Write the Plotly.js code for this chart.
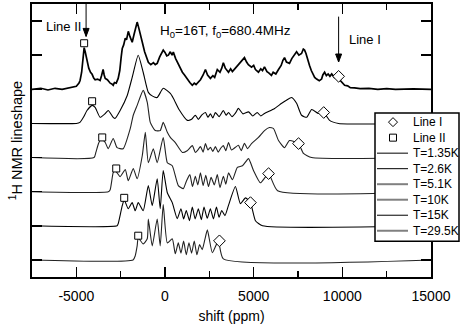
<!DOCTYPE html>
<html>
<head>
<meta charset="utf-8">
<script src="https://cdn.plot.ly/plotly-3.0.1.min.js"></script>
<style>
  body { margin: 0; background: #fff; }
  #grafico { width: 462px; height: 327px; }
</style>
</head>
<body>
<div id="grafico"></div>
<script>
// Etiquetas de temperatura y desplazamiento vertical de cada espectro
const temps = ['T=1.35K', 'T=2.6K', 'T=5.1K', 'T=10K', 'T=15K', 'T=29.5K'];
const offsets = [5, 4, 3, 2, 1, 0];

// Espectros: desplazamiento (ppm) e intensidad sobre la linea base
const s1x = [-7500, -7000, -6600, -6200, -5800, -5400, -5000, -4850, -4790, -4700, -4650, -4600, -4560, -4500, -4450, -4380, -4300, -4200, -4110, -4020, -3940, -3800, -3660, -3580, -3490, -3430, -3370, -3250, -3150, -3090, -3000, -2920, -2850, -2750, -2640, -2550, -2470, -2410, -2330, -2240, -2170, -2070, -1980, -1850, -1750, -1650, -1570, -1480, -1380, -1280, -1150, -1050, -940, -800, -650, -550, -440, -300, -180, -100, 0, 100, 190, 300, 400, 470, 600, 750, 850, 980, 1100, 1250, 1400, 1540, 1650, 1750, 1880, 2000, 2150, 2280, 2400, 2560, 2700, 2800, 2950, 3100, 3200, 3290, 3400, 3500, 3580, 3700, 3800, 3970, 4100, 4250, 4380, 4480, 4600, 4700, 4880, 5000, 5100, 5270, 5400, 5500, 5610, 5750, 5850, 6000, 6100, 6250, 6400, 6550, 6650, 6740, 6850, 7020, 7150, 7300, 7420, 7550, 7700, 7800, 7870, 7950, 8050, 8150, 8250, 8350, 8440, 8550, 8700, 8830, 8900, 9000, 9100, 9200, 9300, 9400, 9550, 9650, 9790, 9900, 10000, 10130, 10300, 10450, 10690, 11000, 11500, 12000, 12500, 13000, 14000, 15000];
const s1y = [0, 0.03, -0.02, 0.03, 0, 0.05, 0.09, 0.18, 0.26, 0.5, 0.72, 1.0, 1.22, 1.1, 0.95, 0.75, 0.62, 0.5, 0.44, 0.33, 0.28, 0.3, 0.26, 0.4, 0.58, 0.42, 0.32, 0.28, 0.22, 0.18, 0.16, 0.12, 0.2, 0.18, 0.32, 0.55, 0.95, 1.2, 1.3, 1.5, 1.45, 1.7, 1.55, 1.38, 1.6, 1.85, 1.97, 1.8, 1.55, 1.38, 1.1, 0.95, 0.79, 0.72, 0.78, 0.72, 0.76, 0.95, 1.05, 1.15, 1.08, 0.98, 1.0, 1.1, 1.0, 1.09, 0.9, 0.75, 0.62, 0.5, 0.42, 0.3, 0.2, 0.12, 0.18, 0.14, 0.2, 0.28, 0.42, 0.58, 0.42, 0.32, 0.4, 0.35, 0.58, 0.5, 0.62, 0.78, 0.62, 0.55, 0.5, 0.6, 0.52, 0.62, 0.7, 0.8, 0.85, 0.93, 0.8, 0.72, 0.65, 0.7, 0.58, 0.5, 0.6, 0.55, 0.66, 0.52, 0.48, 0.41, 0.5, 0.45, 0.58, 0.7, 0.85, 0.93, 0.8, 0.76, 0.9, 1.0, 1.1, 1.0, 1.05, 1.18, 1.15, 1.05, 0.85, 0.7, 0.55, 0.42, 0.35, 0.3, 0.25, 0.3, 0.42, 0.5, 0.4, 0.45, 0.38, 0.45, 0.35, 0.4, 0.38, 0.25, 0.18, 0.12, 0.1, 0.05, 0.04, 0.02, 0.03, 0, 0.02, 0, 0.01, 0];

const s2x = [-7500, -5000, -4800, -4600, -4400, -4110, -3940, -3660, -3370, -3200, -2920, -2810, -2530, -2130, -1850, -1510, -1230, -940, -700, -440, -100, 300, 470, 800, 1260, 1500, 1710, 1880, 2080, 2280, 2420, 2560, 2700, 2840, 3050, 3290, 3450, 3580, 3780, 3970, 4140, 4400, 4710, 4950, 5200, 5400, 5610, 6180, 6580, 6850, 7140, 7420, 7700, 7990, 8270, 8660, 8950, 9280, 9790, 15000];
const s2y = [0, 0, 0.03, 0.18, 0.38, 0.53, 0.47, 0.18, 0.29, 0.38, 0.18, 0.15, 0.38, 0.82, 1.35, 2.0, 1.5, 0.91, 0.8, 0.76, 1.03, 0.88, 0.74, 0.4, 0.09, 0.12, 0.24, 0.12, 0.25, 0.32, 0.18, 0.28, 0.16, 0.32, 0.2, 0.38, 0.24, 0.32, 0.2, 0.3, 0.44, 0.28, 0.34, 0.22, 0.32, 0.22, 0.29, 0.44, 0.59, 0.68, 0.76, 0.59, 0.24, 0.18, 0.41, 0.29, 0.32, 0.09, 0, 0];

const s3x = [-7500, -4000, -3900, -3750, -3600, -3370, -3200, -2920, -2700, -2360, -1960, -1790, -1570, -1230, -1000, -830, -550, -270, -100, 130, 300, 580, 980, 1250, 1540, 1710, 1850, 2000, 2150, 2280, 2420, 2560, 2700, 2840, 3000, 3150, 3290, 3430, 3580, 3750, 3970, 4140, 4300, 4480, 4650, 4880, 5270, 5610, 5890, 6120, 6400, 6740, 7020, 7530, 7810, 8270, 15000];
const s3y = [0, 0, 0.15, 0.41, 0.56, 0.44, 0.26, 0.56, 0.29, 0.26, 0.85, 1.24, 1.53, 1.97, 1.62, 1.03, 0.79, 0.79, 1.03, 0.74, 0.59, 0.44, 0.15, 0.2, 0.35, 0.15, 0.22, 0.32, 0.16, 0.41, 0.22, 0.3, 0.18, 0.32, 0.16, 0.28, 0.35, 0.2, 0.44, 0.22, 0.3, 0.36, 0.2, 0.42, 0.26, 0.41, 0.59, 0.79, 0.88, 0.85, 0.5, 0.29, 0.5, 0.41, 0.12, 0, 0];

const s4x = [-7500, -3200, -3090, -2920, -2810, -2530, -2240, -2070, -1790, -1570, -1280, -1110, -940, -660, -440, -100, 130, 410, 750, 1030, 1200, 1400, 1550, 1710, 1850, 2000, 2150, 2300, 2450, 2600, 2780, 2950, 3100, 3290, 3430, 3580, 3800, 4080, 4370, 4710, 4990, 5380, 5840, 6350, 15000];
const s4y = [0, 0, 0.06, 0.56, 0.62, 0.44, 0.65, 0.32, 0.68, 0.38, 1.06, 1.74, 0.85, 1.26, 0.85, 1.59, 0.85, 0.76, 0.18, 0.09, 0.3, 0.5, 0.15, 0.45, 0.2, 0.55, 0.18, 0.48, 0.15, 0.42, 0.2, 0.5, 0.12, 0.45, 0.22, 0.55, 0.35, 0.71, 0.76, 0.97, 0.62, 0.26, 0.53, 0.03, 0];

const s5x = [-7500, -2700, -2640, -2410, -2300, -2070, -1850, -1680, -1510, -1230, -940, -720, -440, -270, -100, 130, 410, 690, 900, 1050, 1200, 1380, 1540, 1700, 1880, 2050, 2200, 2380, 2560, 2730, 2900, 3050, 3200, 3380, 3580, 3970, 4250, 4540, 4820, 5100, 5500, 15000];
const s5y = [0, 0, 0.06, 0.59, 0.76, 0.5, 0.68, 0.44, 0.68, 0.44, 1.18, 0.59, 1.38, 0.5, 1.62, 0.97, 0.68, 0.21, 0.5, 0.2, 0.45, 0.15, 0.55, 0.2, 0.5, 0.18, 0.55, 0.22, 0.5, 0.2, 0.55, 0.25, 0.45, 0.3, 0.6, 1.15, 0.65, 0.82, 0.68, 0.15, 0, 0];

const s6x = [-7500, -1800, -1680, -1570, -1510, -1230, -1000, -940, -720, -440, -270, -100, 130, 410, 580, 750, 900, 1050, 1200, 1350, 1500, 1650, 1800, 1950, 2100, 2250, 2390, 2670, 3010, 3290, 15000];
const s6y = [0, 0, 0.12, 0.41, 0.65, 0.47, 0.62, 1.2, 0.41, 1.2, 0.41, 1.62, 0.5, 0.62, 0.18, 0.5, 0.2, 0.55, 0.15, 0.5, 0.2, 0.55, 0.15, 0.45, 0.3, 0.6, 0.88, 0.21, 0.56, 0.03, 0];

// Posiciones de Line I (rombos) y Line II (cuadrados) en cada espectro
const lineIx = [9790, 8950, 7530, 5840, 4820, 3070];
const lineIy = [0.38, 0.32, 0.41, 0.53, 0.68, 0.56];
const lineIIx = [-4560, -4110, -3540, -2750, -2300, -1510];
const lineIIy = [1.35, 0.65, 0.59, 0.68, 0.82, 0.71];

const specX = [s1x, s2x, s3x, s4x, s5x, s6x];
const specY = [s1y, s2y, s3y, s4y, s5y, s6y];
const colores = ['#000', '#000', '#222', '#222', '#000', '#222'];
const coloresLeyenda = ['#000', '#000', '#808080', '#808080', '#000', '#808080'];

const fuente = 'Liberation Sans, Arial, Helvetica, sans-serif';

const traces = specX.map((xs, i) => ({
    x: xs,
    y: specY[i].map(v => v + offsets[i]),
    mode: 'lines',
    type: 'scatter',
    line: i === 0
        ? { color: colores[i], width: 1.7 }
        : { color: colores[i], width: 1.1, shape: 'spline', smoothing: 0.5 },
    name: temps[i],
    showlegend: false,
    hoverinfo: 'skip'
}));

traces.push({
    x: lineIx,
    y: lineIy.map((v, i) => v + offsets[i]),
    mode: 'markers',
    type: 'scatter',
    marker: { symbol: 'diamond', size: 9, color: '#fff', line: { color: '#000', width: 1 } },
    name: 'Line I',
    showlegend: false
});
traces.push({
    x: lineIIx,
    y: lineIIy.map((v, i) => v + offsets[i]),
    mode: 'markers',
    type: 'scatter',
    marker: { symbol: 'square', size: 7, color: '#fff', line: { color: '#000', width: 1 } },
    name: 'Line II',
    showlegend: false
});

// Leyenda dibujada a mano (caja, muestras y textos) para respetar el espaciado original
const L = 32, R = 431, T = 4, B = 276.7;
const px2x = p => (p - L) / (R - L);
const px2y = p => (B - p) / (B - T);

const shapes = [];
const annotations = [];

shapes.push({
    type: 'rect', xref: 'paper', yref: 'paper', layer: 'above',
    x0: px2x(375), x1: px2x(459), y0: px2y(241), y1: px2y(113),
    fillcolor: '#fff', line: { color: '#000', width: 1.5 }
});

const etiquetas = ['Line I', 'Line II'].concat(temps);
const filas = [122, 137.5, 153, 168.5, 184, 199.5, 215, 230.5];
etiquetas.forEach((txt, k) => {
    annotations.push({
        xref: 'paper', yref: 'paper', x: px2x(411), y: px2y(filas[k]),
        xanchor: 'left', yanchor: 'middle', showarrow: false, text: txt,
        font: { family: fuente, size: 12, color: '#000' }
    });
    if (k >= 2) {
        const gris = coloresLeyenda[k - 2] !== '#000';
        shapes.push({
            type: 'line', xref: 'paper', yref: 'paper', layer: 'above',
            x0: px2x(377), x1: px2x(408), y0: px2y(filas[k]), y1: px2y(filas[k]),
            line: { color: coloresLeyenda[k - 2], width: gris ? 2 : 1 }
        });
    }
});
// simbolos de la leyenda
shapes.push({
    type: 'path', xref: 'paper', yref: 'paper', layer: 'above',
    xsizemode: 'pixel', ysizemode: 'pixel', xanchor: px2x(393), yanchor: px2y(filas[0]),
    path: 'M0,4.5L4.5,0L0,-4.5L-4.5,0Z', fillcolor: '#fff', line: { color: '#000', width: 1 }
});
shapes.push({
    type: 'rect', xref: 'paper', yref: 'paper', layer: 'above',
    xsizemode: 'pixel', ysizemode: 'pixel', xanchor: px2x(393), yanchor: px2y(filas[1]),
    x0: -3.5, x1: 3.5, y0: -3.5, y1: 3.5, fillcolor: '#fff', line: { color: '#000', width: 1 }
});

// Flechas de Line I y Line II (linea + punta)
function flecha(x, yTop, yTip) {
    shapes.push({
        type: 'line', xref: 'x', yref: 'y', x0: x, x1: x, y0: yTop, y1: yTip,
        line: { color: '#000', width: 1 }
    });
    shapes.push({
        type: 'path', xref: 'x', yref: 'y', xsizemode: 'pixel', ysizemode: 'pixel',
        xanchor: x, yanchor: yTip, path: 'M0,0L-3,8L3,8Z',
        fillcolor: '#000', line: { color: '#000', width: 1 }
    });
}
flecha(-4450, 7.5, 6.55);
flecha(9790, 7.13, 5.8);

annotations.push({
    x: -4620, y: 6.84, xref: 'x', yref: 'y', xanchor: 'right', yanchor: 'middle',
    text: 'Line II', showarrow: false, font: { family: fuente, size: 13, color: '#000' }
});
annotations.push({
    x: 10260, y: 6.46, xref: 'x', yref: 'y', xanchor: 'left', yanchor: 'middle',
    text: 'Line I', showarrow: false, font: { family: fuente, size: 13, color: '#000' }
});
annotations.push({
    x: 3400, y: 6.69, xref: 'x', yref: 'y', xanchor: 'center', yanchor: 'middle',
    text: 'H<sub>0</sub>=16T, f<sub>0</sub>=680.4MHz', showarrow: false,
    font: { family: fuente, size: 13.5, color: '#000' }
});

const layout = {
    width: 462,
    height: 327,
    margin: { l: 32, r: 31, t: 4, b: 50 },
    paper_bgcolor: '#fff',
    plot_bgcolor: '#fff',
    showlegend: false,
    font: { family: fuente, color: '#000' },
    xaxis: {
        range: [-7500, 15000],
        tickvals: [-5000, 0, 5000, 10000, 15000],
        ticktext: ['-5000', '0', '5000', '10000', '15000'],
        ticks: 'inside', ticklen: 10, tickwidth: 1.5, tickcolor: '#000',
        ticklabelstandoff: 5,
        minor: { tickvals: [-2500, 2500, 7500, 12500], ticks: 'inside', ticklen: 6, tickwidth: 1.5, tickcolor: '#000' },
        showline: true, linewidth: 2, linecolor: '#000', mirror: 'ticks',
        showgrid: false, zeroline: false,
        tickfont: { family: fuente, size: 14 },
        title: { text: 'shift (ppm)', font: { family: fuente, size: 14 }, standoff: 8 }
    },
    yaxis: {
        range: [-0.5, 7.5],
        tickvals: [0, 1, 2, 3, 4, 5, 6, 7],
        showticklabels: false,
        ticks: 'inside', ticklen: 10, tickwidth: 1.5, tickcolor: '#000',
        showline: true, linewidth: 2, linecolor: '#000', mirror: 'ticks',
        showgrid: false, zeroline: false,
        title: { text: '<sup>1</sup>H NMR lineshape', font: { family: fuente, size: 14.5 }, standoff: 4 }
    },
    shapes: shapes,
    annotations: annotations
};

Plotly.newPlot('grafico', traces, layout, { staticPlot: true, displayModeBar: false });
</script>
</body>
</html>
